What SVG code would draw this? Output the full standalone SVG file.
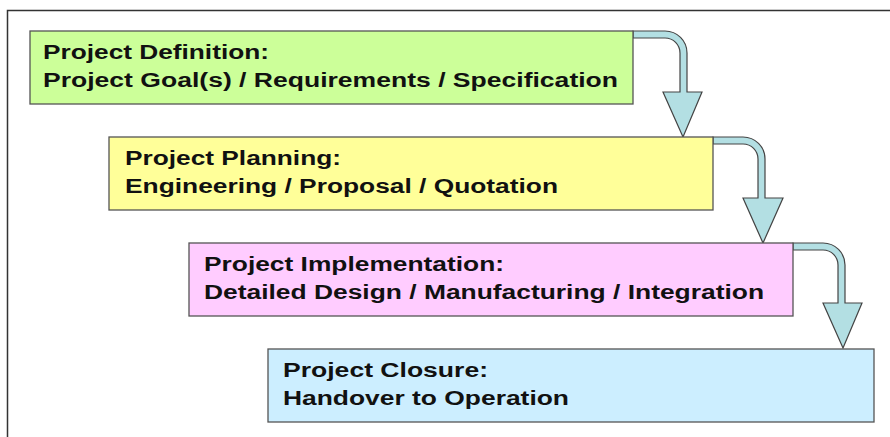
<svg xmlns="http://www.w3.org/2000/svg" width="890" height="437" viewBox="0 0 890 437">
<style>
.box{stroke:#555;stroke-width:1.3}
.lbl{font-family:"Liberation Sans",Arial,sans-serif;font-weight:bold;font-size:20px;fill:#111}
.arr{fill:#b3dfe3;stroke:#444;stroke-width:1.2;stroke-linejoin:miter}
.frame{fill:none;stroke:#333;stroke-width:1.5}
</style>
<rect width="890" height="437" fill="#fff"/>
<path class="frame" d="M7.5,437 V10.5 H890"/>
<g id="connectors">
<path class="arr" d="M633,31 H665 A22,22 0 0 1 687,53 V92 H702 L683,137 L663,92 H680 V53 A15,15 0 0 0 665,38 H633 Z"/>
<path class="arr" d="M713,137 H743 A22,22 0 0 1 765,159 V198 H783 L763,243 L743,198 H758 V159 A15,15 0 0 0 743,144 H713 Z"/>
<path class="arr" d="M793,243 H823 A22,22 0 0 1 845,265 V303 H862 L843,348 L823,303 H838 V265 A15,15 0 0 0 823,250 H793 Z"/>
</g>
<g id="definition">
<rect class="box" x="30" y="31" width="603" height="73" fill="#ccff99"/>
<text class="lbl" x="43" y="59" textLength="226" lengthAdjust="spacingAndGlyphs">Project Definition:</text>
<text class="lbl" x="43" y="87" textLength="575" lengthAdjust="spacingAndGlyphs">Project Goal(s) / Requirements / Specification</text>
</g>
<g id="planning">
<rect class="box" x="109" y="137" width="604" height="73" fill="#ffff99"/>
<text class="lbl" x="125" y="165" textLength="216" lengthAdjust="spacingAndGlyphs">Project Planning:</text>
<text class="lbl" x="125" y="193" textLength="433" lengthAdjust="spacingAndGlyphs">Engineering / Proposal / Quotation</text>
</g>
<g id="implementation">
<rect class="box" x="189" y="243" width="604" height="73" fill="#ffccff"/>
<text class="lbl" x="204" y="271" textLength="300" lengthAdjust="spacingAndGlyphs">Project Implementation:</text>
<text class="lbl" x="204" y="299" textLength="560" lengthAdjust="spacingAndGlyphs">Detailed Design / Manufacturing / Integration</text>
</g>
<g id="closure">
<rect class="box" x="268" y="349" width="606" height="73" fill="#cceeff"/>
<text class="lbl" x="283" y="377" textLength="205" lengthAdjust="spacingAndGlyphs">Project Closure:</text>
<text class="lbl" x="283" y="405" textLength="286" lengthAdjust="spacingAndGlyphs">Handover to Operation</text>
</g>
</svg>
